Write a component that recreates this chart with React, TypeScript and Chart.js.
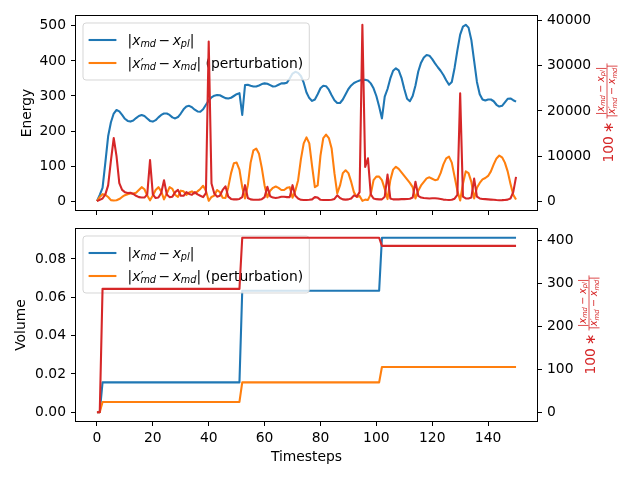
import React, { useEffect, useRef } from "react";
import { Chart, registerables } from "chart.js";

Chart.register(...registerables);

// ---------------- data ----------------
const energySteps: number[] = Array.from({ length: 151 }, (_, i) => i);

const energyPl = [
  0, 18, 38, 110, 185, 225, 250, 260, 256, 246,
  235, 229, 227, 230, 237, 243, 246, 243, 236, 229,
  227, 231, 239, 246, 250, 250, 246, 239, 236, 240,
  250, 262, 270, 272, 268, 261, 256, 255, 262, 275,
  287, 296, 301, 303, 302, 298, 294, 293, 295, 300,
  305, 308, 246, 331, 332, 329, 327, 327, 330, 334,
  336, 335, 331, 327, 328, 332, 336, 336, 338, 350,
  364, 369, 366, 357, 338, 310, 294, 286, 290, 305,
  322, 329, 328, 318, 302, 288, 280, 280, 290, 305,
  320, 330, 337, 341, 344, 346, 346, 344, 336, 322,
  300, 270, 236, 298, 320, 350, 372, 379, 373, 352,
  320, 292, 285, 300, 330, 370, 395, 410, 417, 415,
  405, 393, 382, 372, 360, 345, 332, 340, 380, 430,
  475, 498, 503, 495, 460, 400, 340, 305, 290, 287,
  290, 290, 285, 275, 270, 272, 282, 292, 293, 288, 284,
];

const energyPert = [
  0, 12, 20, 18, 12, 3, 1.8, 2.6, 6, 12,
  17, 20, 22, 22, 24, 32, 40, 34, 16, 2.5,
  16, 32, 40, 28, 5, 22, 40, 35, 18, 12,
  30, 28, 18, 25, 28, 22, 28, 35, 44, 30,
  1, 12, 16, 32, 26, 10, 9, 40, 80, 108,
  110, 90, 40, 8, 45, 110, 145, 150, 135, 95,
  45, 11, 30, 38, 42, 38, 32, 32, 38, 40,
  10, 30, 60, 120, 165, 182, 165, 100, 40, 45,
  130, 180, 190, 180, 150, 80, 22, 45, 80, 88,
  80, 55, 25, 12, 15, 1, 4.5, 3.6, 20, 60,
  70, 70, 60, 35, 6, 60, 90, 98, 92, 82,
  72, 62, 52, 40, 8, 30, 45, 55, 65, 68,
  64, 60, 62, 80, 105, 122, 127, 110, 70, 30,
  2, 50, 85, 80, 55, 8, 38, 52, 62, 66,
  72, 85, 105, 122, 130, 125, 110, 85, 50, 18, 5,
];

const energyRatio = [
  0, 300, 600, 1500, 3500, 9000, 14000, 10000, 4000, 2500,
  2000, 1800, 1850, 1600, 1200, 900, 800, 800, 1500, 9100,
  1500, 700, 800, 1800, 4650, 1500, 900, 1000, 2000, 2500,
  1200, 1200, 2000, 1600, 1400, 2000, 1500, 1200, 900, 1800,
  35400, 3900, 1700, 1000, 1200, 2500, 3300, 1000, 500, 400,
  400, 500, 900, 3550, 700, 400, 300, 300, 350, 450,
  900, 3200, 1100, 800, 700, 800, 1000, 1000, 900, 900,
  3550, 1200, 600, 300, 250, 250, 300, 400, 900, 800,
  300, 250, 250, 250, 300, 500, 1300, 700, 400, 350,
  400, 600, 1300, 1000, 2000, 39100, 7600, 9500, 1500, 600,
  450, 400, 400, 1000, 5900, 600, 400, 400, 400, 450,
  450, 500, 550, 800, 4300, 1200, 800, 700, 650, 600,
  650, 650, 600, 500, 350, 300, 280, 300, 550, 1400,
  23900, 1000, 600, 600, 800, 5000, 1000, 600, 500, 450,
  400, 350, 300, 250, 220, 230, 260, 350, 600, 2000, 5400,
];

const volumeSteps = [0, 1, 2, 51, 52, 101, 102, 150];
const volumePl = [0, 0, 0.0156, 0.0156, 0.0634, 0.0634, 0.0911, 0.0911];
const volumePert = [0, 0, 0.0054, 0.0054, 0.0156, 0.0156, 0.0236, 0.0236];
const volumeRatio = [0, 0, 287, 287, 406, 406, 387, 387];

const xTicks = [0, 20, 40, 60, 80, 100, 120, 140];
const energyTicks = [0, 100, 200, 300, 400, 500];
const energyRatioTicks = [0, 10000, 20000, 30000, 40000];
const volumeTicks = [0, 0.02, 0.04, 0.06, 0.08];
const volumeRatioTicks = [0, 100, 200, 300, 400];

// ---------------- style ----------------
const FONT = '"DejaVu Sans", sans-serif';
const FS = 13.89;
const C_BLUE = "#1f77b4";
const C_ORANGE = "#ff7f0e";
const C_RED = "#d62728";
const LW = 2.08;

type Seg = { t: string; it?: boolean; sub?: boolean; sup?: boolean; noAdv?: boolean; dx?: number };

const labelPl: Seg[] = [
  { t: "|" }, { t: "x", it: true }, { t: "md", it: true, sub: true },
  { t: "\u2212", dx: 2.5 }, { t: "x", it: true, dx: 2.5 }, { t: "pl", it: true, sub: true }, { t: "|" },
];
const labelPertCore: Seg[] = [
  { t: "|" }, { t: "x", it: true }, { t: "\u2032", sup: true, noAdv: true, dx: 0.3 },
  { t: "md", it: true, sub: true, dx: -0.3 },
  { t: "\u2212", dx: 2.5 }, { t: "x", it: true, dx: 2.5 }, { t: "md", it: true, sub: true }, { t: "|" },
];
const labelPert: Seg[] = [...labelPertCore, { t: " (perturbation)" }];

function segFont(s: Seg, size: number) {
  const sz = s.sub ? size * 0.7 : s.sup ? size * 0.9 : size;
  return `${s.it ? "italic " : ""}${sz}px ${FONT}`;
}
function mathWidth(ctx: CanvasRenderingContext2D, segs: Seg[], size: number) {
  let w = 0;
  for (const s of segs) {
    ctx.font = segFont(s, size);
    w += s.dx || 0;
    if (!s.noAdv) w += ctx.measureText(s.t).width;
  }
  return w;
}
function drawMath(ctx: CanvasRenderingContext2D, segs: Seg[], x: number, y: number, size: number) {
  let cx = x;
  for (const s of segs) {
    ctx.font = segFont(s, size);
    cx += s.dx || 0;
    let yy = y;
    if (s.sub) yy += size * 0.2;
    if (s.sup) yy -= size * 0.05;
    ctx.fillText(s.t, cx, yy);
    if (!s.noAdv) cx += ctx.measureText(s.t).width;
  }
  return cx - x;
}

function drawLegend(chart: any) {
  const ctx: CanvasRenderingContext2D = chart.ctx;
  const a = chart.chartArea;
  const items = [
    { segs: labelPl, color: C_BLUE },
    { segs: labelPert, color: C_ORANGE },
  ];
  ctx.save();
  const bx = a.left + 7;
  const by = a.top + 7;
  const hx = bx + 5.6;
  const textX = hx + 27.8 + 11.1;
  let maxW = 0;
  for (const it of items) maxW = Math.max(maxW, mathWidth(ctx, it.segs, FS));
  const w = textX - bx + maxW + 6;
  const h = 57;
  const r = 3;
  ctx.beginPath();
  ctx.moveTo(bx + r, by);
  ctx.lineTo(bx + w - r, by);
  ctx.quadraticCurveTo(bx + w, by, bx + w, by + r);
  ctx.lineTo(bx + w, by + h - r);
  ctx.quadraticCurveTo(bx + w, by + h, bx + w - r, by + h);
  ctx.lineTo(bx + r, by + h);
  ctx.quadraticCurveTo(bx, by + h, bx, by + h - r);
  ctx.lineTo(bx, by + r);
  ctx.quadraticCurveTo(bx, by, bx + r, by);
  ctx.closePath();
  ctx.fillStyle = "rgba(255,255,255,0.8)";
  ctx.fill();
  ctx.strokeStyle = "rgba(204,204,204,0.8)";
  ctx.lineWidth = 1;
  ctx.stroke();
  items.forEach((it, i) => {
    const cy = by + 17 + i * 23;
    ctx.strokeStyle = it.color;
    ctx.lineWidth = LW;
    ctx.beginPath();
    ctx.moveTo(hx, cy);
    ctx.lineTo(hx + 27.8, cy);
    ctx.stroke();
    ctx.fillStyle = "#000";
    ctx.textBaseline = "alphabetic";
    ctx.textAlign = "left";
    drawMath(ctx, it.segs, textX, cy + 4.5, FS);
  });
  ctx.restore();
}

function drawRatioLabel(chart: any, cx: number) {
  const ctx: CanvasRenderingContext2D = chart.ctx;
  const a = chart.chartArea;
  const cy = (a.top + a.bottom) / 2;
  const s2 = FS * 0.7;
  ctx.save();
  ctx.translate(cx, cy);
  ctx.rotate(-Math.PI / 2);
  ctx.fillStyle = C_RED;
  ctx.strokeStyle = C_RED;
  ctx.textBaseline = "alphabetic";
  ctx.textAlign = "left";
  ctx.font = `${FS}px ${FONT}`;
  const w100 = ctx.measureText("100").width;
  const wAst = ctx.measureText("\u2217").width;
  const nW = mathWidth(ctx, labelPl, s2);
  const dW = mathWidth(ctx, labelPertCore, s2);
  const fW = Math.max(nW, dW) + 2;
  const gap = 3;
  const total = w100 + gap + wAst + gap + fW;
  let u = -total / 2;
  ctx.font = `${FS}px ${FONT}`;
  ctx.fillText("100", u, 5);
  u += w100 + gap;
  ctx.fillText("\u2217", u, 5);
  u += wAst + gap;
  ctx.lineWidth = 0.8;
  ctx.beginPath();
  ctx.moveTo(u, -1);
  ctx.lineTo(u + fW, -1);
  ctx.stroke();
  drawMath(ctx, labelPl, u + (fW - nW) / 2, -4.5, s2);
  drawMath(ctx, labelPertCore, u + (fW - dW) / 2, 7.4, s2);
  ctx.restore();
}

function decoPlugin(ratioCx: number) {
  return {
    id: "deco",
    beforeDatasetDraw(chart: any, args: any) {
      if (args.index === 2) drawLegend(chart);
    },
    afterDatasetsDraw(chart: any) {
      const ctx: CanvasRenderingContext2D = chart.ctx;
      const a = chart.chartArea;
      ctx.save();
      ctx.strokeStyle = "#000";
      ctx.lineWidth = 1;
      ctx.strokeRect(Math.round(a.left) - 0.5, Math.round(a.top) - 0.5, Math.round(a.right - a.left) + 1, Math.round(a.bottom - a.top) + 1);
      ctx.restore();
    },
    afterDraw(chart: any) {
      drawRatioLabel(chart, ratioCx);
    },
  };
}

function lim(data: number[]): [number, number] {
  const mn = Math.min(...data);
  const mx = Math.max(...data);
  const m = (mx - mn) * 0.05;
  return [mn - m, mx + m];
}

const axisFont = { family: FONT, size: FS };
const gridCfg = { drawOnChartArea: false, drawTicks: true, tickLength: 5, color: "#000", lineWidth: 1 };

function makeY(position: string, data: number[], tickVals: number[], fmt: (v: number) => string, width: number, title?: { text: string; pad: number }) {
  const [min, max] = lim(data);
  return {
    type: "linear",
    position,
    min,
    max,
    bounds: "data",
    afterBuildTicks: (s: any) => { s.ticks = tickVals.map((v) => ({ value: v })); },
    afterFit: (s: any) => { s.width = width; s.paddingTop = 0; s.paddingBottom = 0; },
    ticks: { font: axisFont, color: "#000", padding: 5, callback: (v: any) => fmt(Number(v)) },
    grid: gridCfg,
    border: { display: false },
    title: title
      ? { display: true, text: title.text, font: axisFont, color: "#000", padding: { top: title.pad, bottom: 0 } }
      : { display: false },
  };
}

function makeX(showLabels: boolean, height: number) {
  return {
    type: "linear",
    position: "bottom",
    min: -7.5,
    max: 157.5,
    bounds: "data",
    afterBuildTicks: (s: any) => { s.ticks = xTicks.map((v) => ({ value: v })); },
    afterFit: (s: any) => { s.height = height; s.paddingLeft = 0; s.paddingRight = 0; },
    ticks: { display: showLabels, font: axisFont, color: "#000", padding: 4, maxRotation: 0, autoSkip: false, callback: (v: any) => String(v) },
    grid: gridCfg,
    border: { display: false },
    title: showLabels
      ? { display: true, text: "Timesteps", font: axisFont, color: "#000", padding: { top: 0, bottom: 14.7 } }
      : { display: false },
  };
}

function line(label: string, xs: number[], ys: number[], color: string, axis: string, order: number) {
  return {
    label,
    data: xs.map((x, i) => ({ x, y: ys[i] })),
    borderColor: color,
    backgroundColor: color,
    borderWidth: LW,
    pointRadius: 0,
    pointHoverRadius: 0,
    tension: 0,
    fill: false,
    borderJoinStyle: "round",
    yAxisID: axis,
    order,
  };
}

const common = {
  responsive: false,
  maintainAspectRatio: false,
  animation: false,
  devicePixelRatio: 1,
  plugins: { legend: { display: false }, tooltip: { enabled: false } },
  events: [],
};

export default function App() {
  const r1 = useRef<HTMLCanvasElement>(null);
  const r2 = useRef<HTMLCanvasElement>(null);

  useEffect(() => {
    const c1 = new Chart(r1.current as HTMLCanvasElement, {
      type: "line",
      data: {
        datasets: [
          line("|x_md − x_pl|", energySteps, energyPl, C_BLUE, "y", 3),
          line("|x'_md − x_md| (perturbation)", energySteps, energyPert, C_ORANGE, "y", 2),
          line("100 * ratio", energySteps, energyRatio, C_RED, "y1", 1),
        ],
      },
      options: {
        ...common,
        layout: { padding: { top: 16, left: 0, right: 0, bottom: 0 } },
        scales: {
          x: makeX(false, 14),
          y: makeY("left", energyPl.concat(energyPert), energyTicks, (v) => String(v), 76, { text: "Energy", pad: 18.7 }),
          y1: makeY("right", energyRatio, energyRatioTicks, (v) => String(v), 103),
        },
      } as any,
      plugins: [decoPlugin(608)],
    } as any);

    const c2 = new Chart(r2.current as HTMLCanvasElement, {
      type: "line",
      data: {
        datasets: [
          line("|x_md − x_pl|", volumeSteps, volumePl, C_BLUE, "y", 3),
          line("|x'_md − x_md| (perturbation)", volumeSteps, volumePert, C_ORANGE, "y", 2),
          line("100 * ratio", volumeSteps, volumeRatio, C_RED, "y1", 1),
        ],
      },
      options: {
        ...common,
        layout: { padding: { top: 5, left: 0, right: 0, bottom: 0 } },
        scales: {
          x: makeX(true, 59),
          y: makeY("left", volumePl.concat(volumePert), volumeTicks, (v) => v.toFixed(2), 76, { text: "Volume", pad: 13.2 }),
          y1: makeY("right", volumeRatio, volumeRatioTicks, (v) => String(v), 103),
        },
      } as any,
      plugins: [decoPlugin(590)],
    } as any);

    return () => {
      c1.destroy();
      c2.destroy();
    };
  }, []);

  return (
    <div style={{ position: "absolute", left: 0, top: 0, width: 640, height: 480, background: "#fff" }}>
      <canvas ref={r1} width={640} height={224} style={{ position: "absolute", left: 0, top: 0, width: 640, height: 224 }} />
      <canvas ref={r2} width={640} height={256} style={{ position: "absolute", left: 0, top: 224, width: 640, height: 256 }} />
    </div>
  );
}
